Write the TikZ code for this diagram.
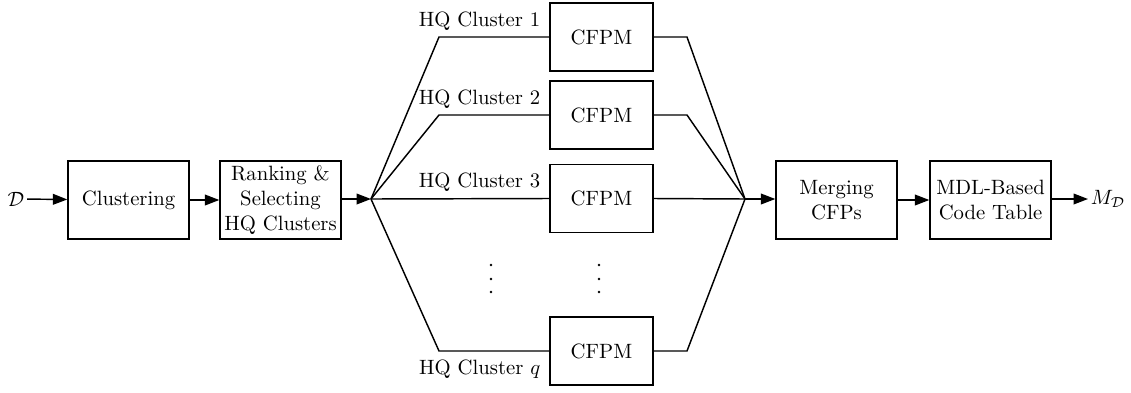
\documentclass[tikz,border=0pt]{standalone}
\usetikzlibrary{arrows.meta}
\begin{document}
\begin{tikzpicture}[x=0.483pt,y=-0.483pt,
  line width=0.7pt,
  blk/.style={draw,line width=0.7pt,minimum width=58.4pt,minimum height=37.7pt,align=center,inner sep=1pt},
  cfpm/.style={draw,line width=0.7pt,minimum width=49.8pt,minimum height=32.8pt,inner sep=1pt},
  arr/.style={-{Triangle[length=7pt,width=5.2pt]}},
  lbl/.style={anchor=base east,inner sep=0pt},
  dotc/.style={circle,fill,inner sep=0pt,minimum size=1.3pt}]
\useasboundingbox (0,0) rectangle (1131,392);
\node[inner sep=1pt] (D) at (16,199) {$\mathcal{D}$};
\node[blk] (clust) at (128.5,200) {Clustering};
\node[blk] (rank) at (280.5,200) {Ranking \&\\Selecting\\HQ Clusters};
\coordinate (jl) at (371,199);
\coordinate (bl) at (439,199);
\coordinate (br) at (687,199);
\coordinate (jr) at (745,199);
\node[cfpm] (c1) at (601.5,37) {CFPM};
\node[cfpm] (c2) at (601.5,115) {CFPM};
\node[cfpm] (c3) at (601.5,198.5) {CFPM};
\node[cfpm] (cq) at (601.5,351) {CFPM};
\node[blk] (merge) at (836.5,200) {Merging\\CFPs};
\node[blk] (mdl) at (990.5,200) {MDL-Based\\Code Table};
\node[anchor=west,inner sep=1pt] (MD) at (1088,199) {$M_{\mathcal{D}}$};
\node[lbl] (l1) at (541,26) {HQ Cluster 1};
\node[lbl] (l2) at (541,104) {HQ Cluster 2};
\node[lbl] (l3) at (541,187) {HQ Cluster 3};
\node[lbl] (lq) at (541,374) {HQ Cluster $q$};
\foreach \x/\n in {491/a,599/b}{
  \node[dotc] (d\n1) at (\x,265) {};
  \node[dotc] (d\n2) at (\x,279) {};
  \node[dotc] (d\n3) at (\x,292) {};
}
\draw[arr] (D) -- (clust);
\draw[arr] (clust) -- (rank);
\draw[arr] (rank.east |- jl) -- (jl);
\draw (jl) -- (bl |- c1.west) -- (c1.west);
\draw (jl) -- (bl |- c2.west) -- (c2.west);
\draw (jl) -- (c3.west);
\draw (jl) -- (bl |- cq.west) -- (cq.west);
\draw (c1.east) -- (br |- c1.east) -- (jr);
\draw (c2.east) -- (br |- c2.east) -- (jr);
\draw (c3.east) -- (jr);
\draw (cq.east) -- (br |- cq.east) -- (jr);
\draw[arr] (jr) -- (merge.west |- jr);
\draw[arr] (merge) -- (mdl);
\draw[arr] (mdl.east |- MD.west) -- (MD.west);
\end{tikzpicture}
\end{document}
